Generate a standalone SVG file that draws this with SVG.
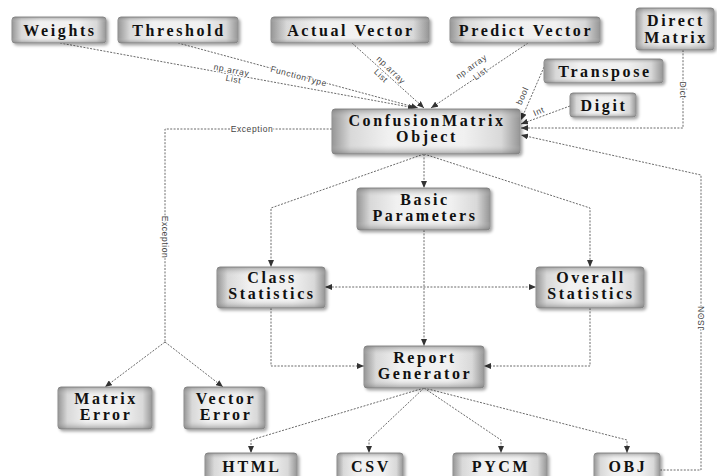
<svg xmlns="http://www.w3.org/2000/svg" width="717" height="476" viewBox="0 0 717 476">
<defs>
<linearGradient id="gh" x1="0" y1="0" x2="1" y2="0">
<stop offset="0" stop-color="#8e8e8e"/>
<stop offset="0.1" stop-color="#d8d8d8"/>
<stop offset="0.3" stop-color="#f3f3f3"/>
<stop offset="0.7" stop-color="#f3f3f3"/>
<stop offset="0.9" stop-color="#d8d8d8"/>
<stop offset="1" stop-color="#8e8e8e"/>
</linearGradient>
<linearGradient id="gv" x1="0" y1="0" x2="0" y2="1">
<stop offset="0" stop-color="#777" stop-opacity="0.6"/>
<stop offset="0.2" stop-color="#ddd" stop-opacity="0.1"/>
<stop offset="0.8" stop-color="#ddd" stop-opacity="0.1"/>
<stop offset="1" stop-color="#777" stop-opacity="0.6"/>
</linearGradient>
<filter id="sh" x="-10%" y="-20%" width="130%" height="160%">
<feDropShadow dx="2" dy="2" stdDeviation="1.5" flood-color="#000" flood-opacity="0.35"/>
</filter>
<marker id="ar" markerUnits="userSpaceOnUse" markerWidth="8" markerHeight="6" refX="7" refY="3" orient="auto-start-reverse">
<path d="M0,0 L7,3 L0,6 Z" fill="#333"/>
</marker>
<style>
.b{fill:url(#gh);stroke:#8a8a8a;stroke-width:1;filter:url(#sh)}
.o{fill:url(#gv)}
.t{font-family:"Liberation Serif","Times New Roman",serif;font-weight:bold;font-size:16px;letter-spacing:2.6px;fill:#111;text-anchor:middle}
.l{font-family:"Liberation Sans",Arial,sans-serif;font-size:8.5px;letter-spacing:0.6px;fill:#444;text-anchor:middle;stroke:#fff;stroke-width:2px;paint-order:stroke}
.c{fill:none;stroke:#6a6a6a;stroke-width:1;stroke-dasharray:2 1.4}
.a{marker-end:url(#ar)}
</style>
</defs>
<rect width="717" height="476" fill="#fff"/>

<g id="connectors">
<path class="c a" d="M60,43 L415,108"/>
<path class="c a" d="M178,43 L418,108"/>
<path class="c a" d="M352,43 L424,108"/>
<path class="c a" d="M528,43 L431,108"/>
<path class="c a" d="M544,67 L521,120"/>
<path class="c a" d="M570,106 L521,124"/>
<path class="c a" d="M683,50 V128 H521"/>
<path class="c a" d="M660,470 H701 V175 L521,135"/>
<path class="c" d="M332,129 H165 V342"/>
<path class="c a" d="M165,342 L105,387"/>
<path class="c a" d="M165,342 L223,387"/>
<path class="c a" d="M424,154 V188"/>
<path class="c a" d="M424,154 L271,208 V267"/>
<path class="c a" d="M424,154 L590,208 V267"/>
<path class="c a" d="M325,287 H536" marker-start="url(#ar)"/>
<path class="c a" d="M424,230 V346"/>
<path class="c a" d="M271,308 V366 H364"/>
<path class="c a" d="M590,308 V366 H484"/>
<path class="c a" d="M424,388 L251,440 V453"/>
<path class="c a" d="M424,388 L369,440 V453"/>
<path class="c a" d="M424,388 L501,440 V453"/>
<path class="c a" d="M424,388 L627,440 V453"/>
<text class="l" transform="translate(231,73) rotate(11)">np.array</text>
<text class="l" transform="translate(233,82) rotate(11)">List</text>
<text class="l" transform="translate(298,79) rotate(15)">FunctionType</text>
<text class="l" transform="translate(389,72) rotate(44)">np.array</text>
<text class="l" transform="translate(379,78) rotate(44)">List</text>
<text class="l" transform="translate(473,69) rotate(-36)">np.array</text>
<text class="l" transform="translate(482,76) rotate(-36)">List</text>
<text class="l" transform="translate(525,97) rotate(-66)">bool</text>
<text class="l" transform="translate(540,114) rotate(-24)">Int</text>
<text class="l" transform="translate(680,90) rotate(90)">Dict</text>
<text class="l" x="252" y="132">Exception</text>
<text class="l" transform="translate(162,237) rotate(90)">Exception</text>
<text class="l" transform="translate(704,318) rotate(-90)">JSON</text>
</g>

<g id="weights"><rect class="b" x="12" y="17" width="94" height="26" rx="3"/><rect class="o" x="12" y="17" width="94" height="26" rx="3"/><text class="t" x="60" y="35.5">Weights</text></g>
<g id="threshold"><rect class="b" x="118" y="17" width="120" height="26" rx="3"/><rect class="o" x="118" y="17" width="120" height="26" rx="3"/><text class="t" x="179" y="35.5">Threshold</text></g>
<g id="actual-vector"><rect class="b" x="271" y="17" width="158" height="26" rx="3"/><rect class="o" x="271" y="17" width="158" height="26" rx="3"/><text class="t" x="351" y="35.5">Actual Vector</text></g>
<g id="predict-vector"><rect class="b" x="450" y="17" width="150" height="26" rx="3"/><rect class="o" x="450" y="17" width="150" height="26" rx="3"/><text class="t" x="526" y="35.5">Predict Vector</text></g>
<g id="direct-matrix"><rect class="b" x="636" y="8" width="78" height="42" rx="3"/><rect class="o" x="636" y="8" width="78" height="42" rx="3"/><text class="t" x="676" y="26">Direct</text><text class="t" x="676" y="43">Matrix</text></g>
<g id="transpose"><rect class="b" x="544" y="59" width="119" height="24" rx="3"/><rect class="o" x="544" y="59" width="119" height="24" rx="3"/><text class="t" x="605" y="76.5">Transpose</text></g>
<g id="digit"><rect class="b" x="570" y="93" width="66" height="24" rx="3"/><rect class="o" x="570" y="93" width="66" height="24" rx="3"/><text class="t" x="604" y="110.5">Digit</text></g>
<g id="confusion-matrix"><rect class="b" x="332" y="109" width="188" height="45" rx="3"/><rect class="o" x="332" y="109" width="188" height="45" rx="3"/><text class="t" x="427" y="126">ConfusionMatrix</text><text class="t" x="427" y="142">Object</text></g>
<g id="basic-parameters"><rect class="b" x="357" y="188" width="133" height="42" rx="3"/><rect class="o" x="357" y="188" width="133" height="42" rx="3"/><text class="t" x="425" y="205">Basic</text><text class="t" x="425" y="221">Parameters</text></g>
<g id="class-statistics"><rect class="b" x="217" y="267" width="108" height="41" rx="3"/><rect class="o" x="217" y="267" width="108" height="41" rx="3"/><text class="t" x="272" y="283">Class</text><text class="t" x="272" y="299">Statistics</text></g>
<g id="overall-statistics"><rect class="b" x="536" y="267" width="108" height="41" rx="3"/><rect class="o" x="536" y="267" width="108" height="41" rx="3"/><text class="t" x="591" y="283">Overall</text><text class="t" x="591" y="299">Statistics</text></g>
<g id="report-generator"><rect class="b" x="364" y="346" width="120" height="42" rx="3"/><rect class="o" x="364" y="346" width="120" height="42" rx="3"/><text class="t" x="425" y="363">Report</text><text class="t" x="425" y="379">Generator</text></g>
<g id="matrix-error"><rect class="b" x="58" y="387" width="94" height="42" rx="3"/><rect class="o" x="58" y="387" width="94" height="42" rx="3"/><text class="t" x="106" y="404">Matrix</text><text class="t" x="106" y="420">Error</text></g>
<g id="vector-error"><rect class="b" x="184" y="387" width="81" height="42" rx="3"/><rect class="o" x="184" y="387" width="81" height="42" rx="3"/><text class="t" x="226" y="404">Vector</text><text class="t" x="226" y="420">Error</text></g>
<g id="html"><rect class="b" x="205" y="453" width="92" height="30" rx="3"/><rect class="o" x="205" y="453" width="92" height="30" rx="3"/><text class="t" x="252" y="472">HTML</text></g>
<g id="csv"><rect class="b" x="337" y="453" width="66" height="30" rx="3"/><rect class="o" x="337" y="453" width="66" height="30" rx="3"/><text class="t" x="371" y="472">CSV</text></g>
<g id="pycm"><rect class="b" x="453" y="453" width="94" height="30" rx="3"/><rect class="o" x="453" y="453" width="94" height="30" rx="3"/><text class="t" x="501" y="472">PYCM</text></g>
<g id="obj"><rect class="b" x="594" y="453" width="66" height="30" rx="3"/><rect class="o" x="594" y="453" width="66" height="30" rx="3"/><text class="t" x="628" y="472">OBJ</text></g>
</svg>
